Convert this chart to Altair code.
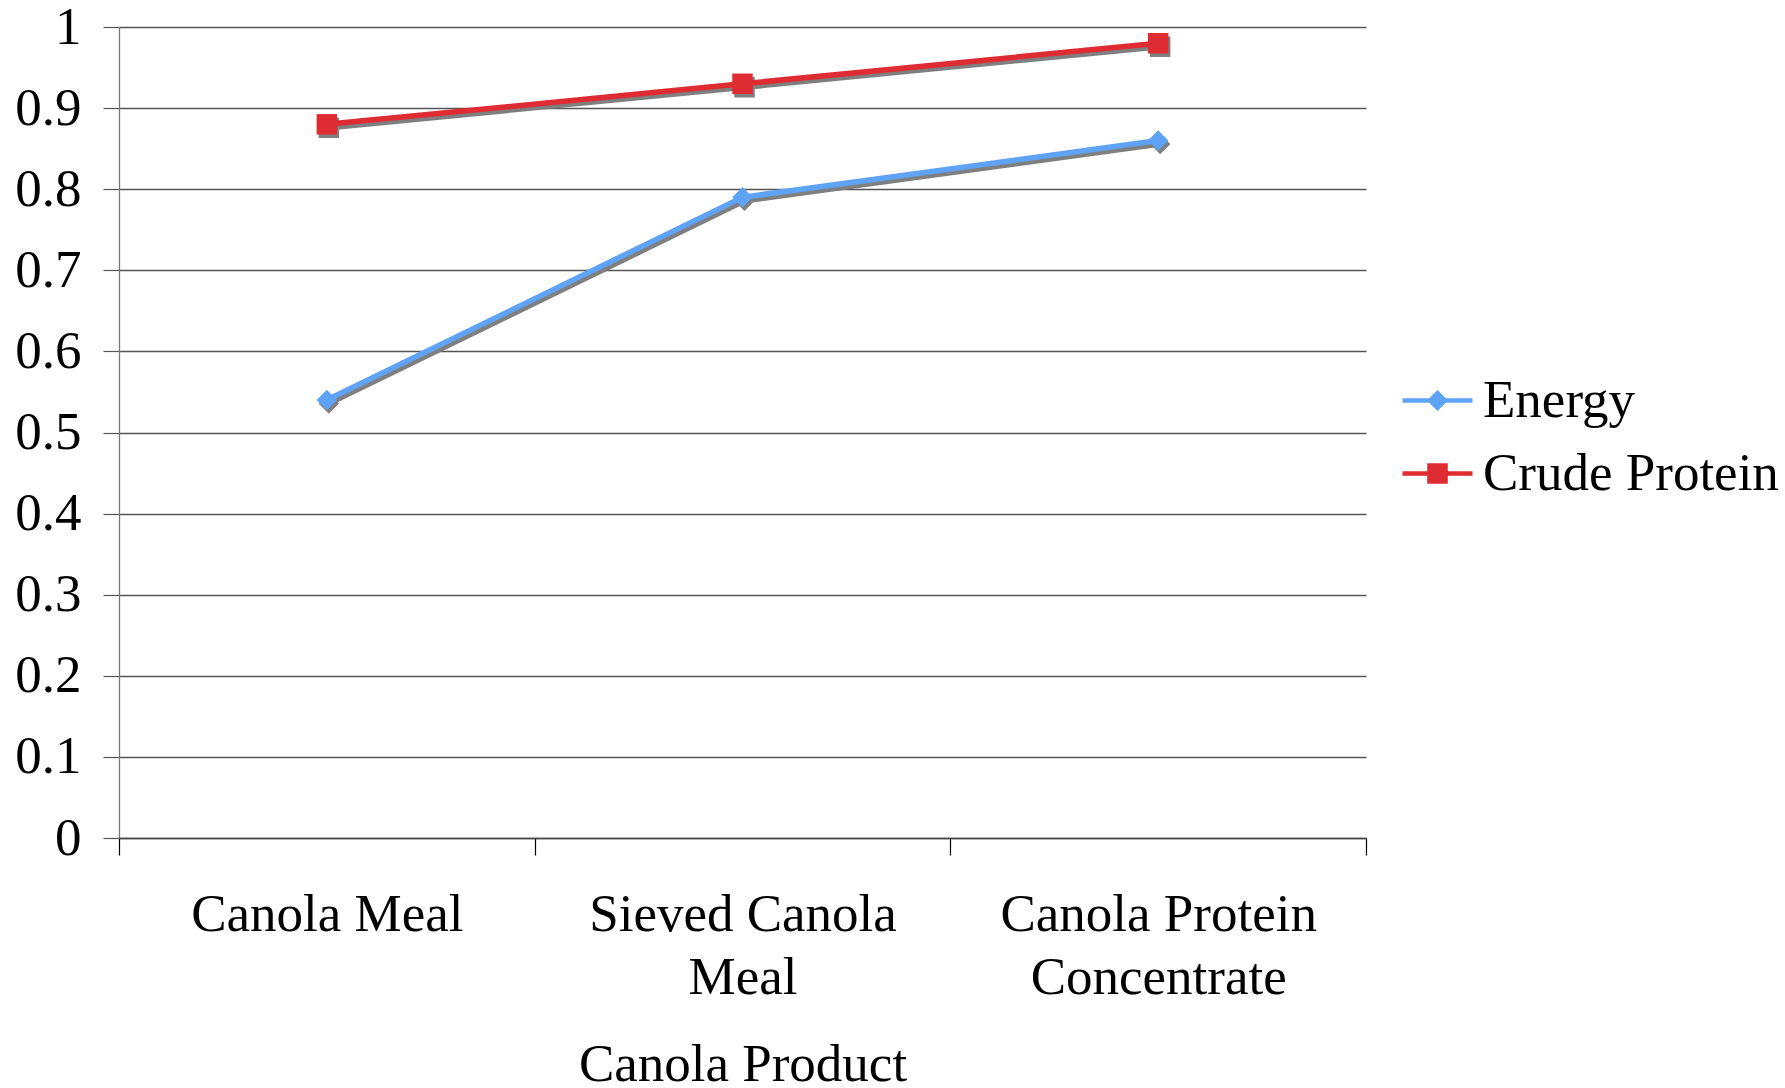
import altair as alt
import pandas as pd

# ---- data ----
categories = ["Canola Meal", "Sieved Canola Meal", "Canola Protein Concentrate"]
category_lines = [["Canola Meal"], ["Sieved Canola", "Meal"], ["Canola Protein", "Concentrate"]]
series_names = ["Energy", "Crude Protein"]
energy = [0.54, 0.79, 0.86]
crude_protein = [0.88, 0.93, 0.98]
y_ticks = [0, 0.1, 0.2, 0.3, 0.4, 0.5, 0.6, 0.7, 0.8, 0.9, 1]

series_values = {"Energy": energy, "Crude Protein": crude_protein}
colors = {"Energy": "#5FA3F6", "Crude Protein": "#DF2B32"}
shapes = {"Energy": "diamond", "Crude Protein": "square"}
legend_paths = {
    "Energy": "M-1,0H1M0,-0.21L0.21,0L0,0.21L-0.21,0Z",
    "Crude Protein": "M-1,0H1M-0.23,-0.23H0.23V0.23H-0.23Z",
}

rows = []
for s in series_names:
    for i, (c, v) in enumerate(zip(categories, series_values[s])):
        rows.append({"series": s, "category": c, "pos": i + 0.5, "value": v})
df = pd.DataFrame(rows)

W, H = 1247, 811
FONT = "Liberation Serif"
FS = 53
SHADOW = "#7F7F7F"


def js_label(lines):
    if len(lines) == 1:
        return "'" + lines[0] + "'"
    return "[" + ",".join("'" + l + "'" for l in lines) + "]"


label_expr = ""
for i, lines in enumerate(category_lines):
    label_expr += f"datum.value == {i} ? {js_label(lines)} : "
label_expr += "''"

x_enc = alt.X(
    "pos:Q",
    scale=alt.Scale(domain=[0, len(categories)], nice=False, zero=False),
    axis=alt.Axis(
        values=list(range(len(categories) + 1)),
        labelExpr=label_expr,
        labelOffset=W / len(categories) / 2,
        labelFlush=False,
        labelOverlap=False,
        labelBound=False,
        labelLimit=0,
        labelFont=FONT,
        labelFontSize=FS,
        labelColor="#000000",
        labelPadding=33,
        labelLineHeight=63,
        labelBaseline="top",
        tickSize=17,
        tickColor="#000000",
        tickWidth=1.2,
        domainColor="#444444",
        domainWidth=1.3,
        grid=False,
        title="Canola Product",
        titleFont=FONT,
        titleFontSize=FS,
        titleFontWeight="normal",
        titleColor="#000000",
        titlePadding=34,
    ),
)
y_enc = alt.Y(
    "value:Q",
    scale=alt.Scale(domain=[0, 1], nice=False),
    axis=alt.Axis(
        values=y_ticks,
        labelExpr="format(datum.value, '~g')",
        labelFont=FONT,
        labelFontSize=FS,
        labelColor="#000000",
        labelPadding=22,
        tickSize=16,
        tickColor="#555555",
        tickWidth=1.2,
        domainColor="#777777",
        domainWidth=1.3,
        grid=True,
        gridColor="#555555",
        gridWidth=1.3,
        title=None,
    ),
)

base = alt.Chart(df)
layers = []
for s in series_names:
    sd = base.transform_filter(alt.datum.series == s)
    layers.append(
        sd.mark_line(color=SHADOW, strokeWidth=5.5, xOffset=2, yOffset=3.5).encode(x=x_enc, y=y_enc)
    )
    layers.append(
        sd.mark_point(filled=True, color=SHADOW, opacity=1, size=420, shape=shapes[s], xOffset=2, yOffset=3.5).encode(x=x_enc, y=y_enc)
    )
    layers.append(
        sd.mark_line(color=colors[s], strokeWidth=5.5).encode(x=x_enc, y=y_enc)
    )
    layers.append(
        sd.mark_point(filled=True, color=colors[s], opacity=1, size=420, shape=shapes[s]).encode(x=x_enc, y=y_enc)
    )

leg = alt.Legend(
    title=None,
    orient="none",
    legendX=1281,
    legendY=336,
    labelFont=FONT,
    labelFontSize=FS,
    labelColor="#000000",
    symbolSize=4900,
    symbolStrokeWidth=4.5,
    symbolOpacity=1,
    labelOffset=8,
    rowPadding=8,
    labelLimit=0,
)
legend_layer = base.transform_filter("false").mark_point(filled=True).encode(
    x=x_enc,
    y=y_enc,
    fill=alt.Fill("series:N", scale=alt.Scale(domain=series_names, range=[colors[s] for s in series_names]), legend=leg, sort=series_names),
    stroke=alt.Stroke("series:N", scale=alt.Scale(domain=series_names, range=[colors[s] for s in series_names]), legend=leg, sort=series_names),
    shape=alt.Shape("series:N", scale=alt.Scale(domain=series_names, range=[legend_paths[s] for s in series_names]), legend=leg, sort=series_names),
)
layers.append(legend_layer)

chart = alt.layer(*layers).properties(
    width=W,
    height=H,
    autosize=alt.AutoSizeParams(type="none"),
    padding={"left": 119, "top": 27, "right": 1785 - 119 - W, "bottom": 1088 - 27 - H},
    background="#FFFFFF",
).configure_view(stroke=None)

chart.save("out.html", embed_options={"renderer": "svg", "actions": False})
